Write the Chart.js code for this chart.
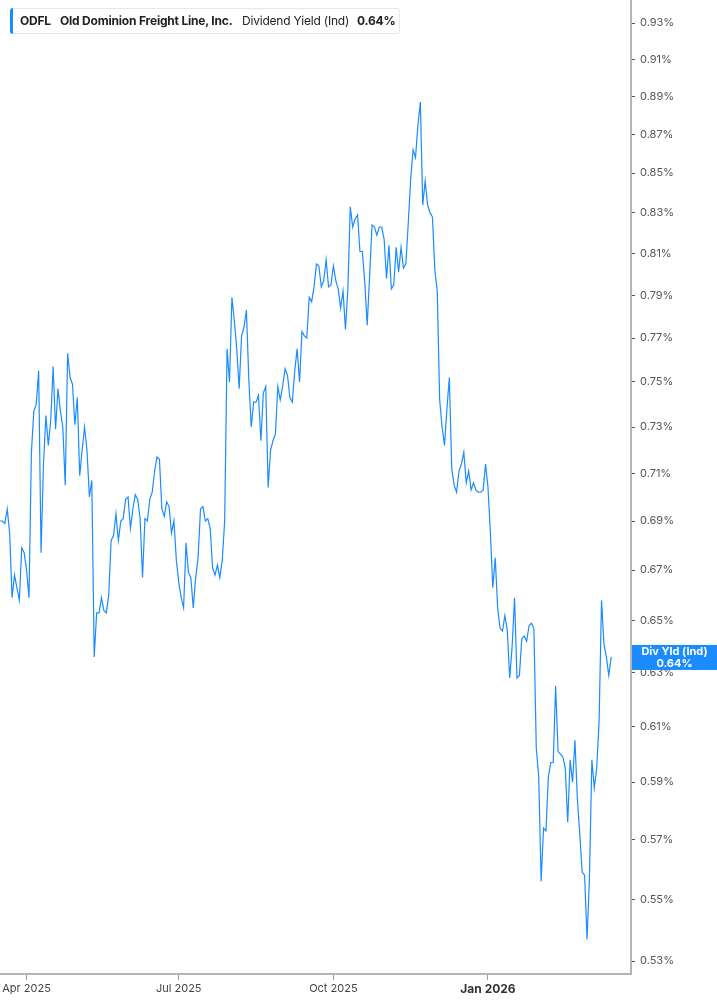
<!DOCTYPE html>
<html>
<head>
<meta charset="utf-8">
<title>ODFL Dividend Yield (Ind)</title>
<script src="https://cdn.jsdelivr.net/npm/chart.js@4.4.1/dist/chart.umd.min.js"></script>
<style>
  html, body { margin: 0; padding: 0; background: #fff; }
  #wrap { position: relative; width: 717px; height: 1005px; }
  #legend {
    position: absolute; left: 10px; top: 8px; height: 24px; width: 388px;
    border: 1px solid #e4e6ea; border-radius: 3px; background: #fff;
    font-family: Inter, "Noto Sans", sans-serif; font-size: 12px; letter-spacing: -0.2px; color: #222;
    line-height: 24px; white-space: nowrap; box-sizing: content-box;
  }
  #legend .bar { position: absolute; left: -1px; top: -1px; bottom: -1px; width: 3px; background: #1a8cff; border-radius: 3px 0 0 3px; }
  #legend span { position: absolute; top: 0; }
  #legend b { font-weight: 700; }
</style>
</head>
<body>
<div id="wrap">
  <canvas id="yield-chart" width="717" height="1005"></canvas>
  <div id="legend">
    <div class="bar"></div>
    <span style="left:9px"><b>ODFL</b></span>
    <span style="left:49px"><b>Old Dominion Freight Line, Inc.</b></span>
    <span style="left:231px">Dividend Yield (Ind)</span>
    <span style="left:346px"><b id="last-val"></b></span>
  </div>
</div>
<script>
// daily dividend yield (%), Mar 2025 -> Mar 2026
var divYield = [
  0.690, 0.690, 0.689, 0.695, 0.685, 0.659, 0.668, 0.663, 0.658, 0.679,
  0.677, 0.670, 0.659, 0.719, 0.737, 0.740, 0.755, 0.677, 0.714, 0.735,
  0.722, 0.733, 0.757, 0.729, 0.747, 0.737, 0.730, 0.705, 0.763, 0.752,
  0.749, 0.731, 0.743, 0.709, 0.720, 0.730, 0.720, 0.700, 0.707, 0.636,
  0.653, 0.653, 0.659, 0.654, 0.653, 0.660, 0.682, 0.684, 0.693, 0.682,
  0.690, 0.691, 0.699, 0.700, 0.687, 0.695, 0.701, 0.699, 0.691, 0.667,
  0.691, 0.690, 0.699, 0.702, 0.711, 0.717, 0.716, 0.695, 0.692, 0.698,
  0.696, 0.685, 0.690, 0.674, 0.665, 0.659, 0.655, 0.681, 0.669, 0.667,
  0.655, 0.667, 0.675, 0.695, 0.696, 0.690, 0.691, 0.687, 0.671, 0.668,
  0.672, 0.667, 0.674, 0.690, 0.765, 0.750, 0.789, 0.778, 0.765, 0.747,
  0.771, 0.775, 0.783, 0.751, 0.730, 0.741, 0.741, 0.744, 0.724, 0.745,
  0.748, 0.704, 0.720, 0.724, 0.727, 0.748, 0.742, 0.748, 0.756, 0.753,
  0.743, 0.741, 0.755, 0.765, 0.750, 0.773, 0.771, 0.770, 0.789, 0.787,
  0.794, 0.805, 0.804, 0.794, 0.797, 0.807, 0.794, 0.795, 0.804, 0.797,
  0.793, 0.784, 0.792, 0.774, 0.793, 0.833, 0.823, 0.827, 0.829, 0.811,
  0.811, 0.796, 0.776, 0.799, 0.824, 0.823, 0.819, 0.823, 0.823, 0.817,
  0.798, 0.814, 0.793, 0.795, 0.813, 0.801, 0.813, 0.803, 0.805, 0.825,
  0.847, 0.862, 0.858, 0.875, 0.887, 0.834, 0.846, 0.834, 0.830, 0.828,
  0.802, 0.792, 0.742, 0.730, 0.722, 0.738, 0.752, 0.712, 0.705, 0.702,
  0.711, 0.714, 0.719, 0.706, 0.711, 0.703, 0.706, 0.703, 0.702, 0.702,
  0.703, 0.714, 0.704, 0.685, 0.663, 0.675, 0.655, 0.647, 0.646, 0.652,
  0.646, 0.628, 0.640, 0.659, 0.628, 0.629, 0.643, 0.644, 0.642, 0.648,
  0.649, 0.647, 0.602, 0.592, 0.556, 0.574, 0.573, 0.592, 0.597, 0.597,
  0.625, 0.601, 0.600, 0.599, 0.595, 0.576, 0.598, 0.590, 0.605, 0.584,
  0.572, 0.559, 0.558, 0.537, 0.557, 0.598, 0.588, 0.595, 0.612, 0.658,
  0.641, 0.636, 0.629, 0.636
];

// trading-day index where each labelled month starts
var xTickIdx = [11, 74, 138, 202];
var xTickLabels = ['Apr 2025', 'Jul 2025', 'Oct 2025', 'Jan 2026'];
var xTickBold = [false, false, false, true];

var yTicks = [0.53, 0.55, 0.57, 0.59, 0.61, 0.63, 0.65, 0.67, 0.69, 0.71, 0.73,
              0.75, 0.77, 0.79, 0.81, 0.83, 0.85, 0.87, 0.89, 0.91, 0.93];

var lineColor = '#1a8cff';
var lastVal = divYield[divYield.length - 1];
document.getElementById('last-val').textContent = lastVal.toFixed(2) + '%';

// blue tag on the right axis at the latest value
var lastTag = {
  id: 'lastTag',
  afterDraw: function (chart) {
    var ctx = chart.ctx;
    var y = chart.scales.y.getPixelForValue(lastVal);
    var left = chart.chartArea.right + 1;
    ctx.save();
    ctx.fillStyle = lineColor;
    ctx.fillRect(left, y - 12, chart.width - left, 25);
    ctx.fillStyle = '#fff';
    ctx.font = 'bold 11px Inter, "Noto Sans", sans-serif';
    ctx.textAlign = 'center';
    ctx.textBaseline = 'middle';
    var cx = left + (chart.width - left) / 2;
    ctx.fillText('Div Yld (Ind)', cx, y - 5);
    ctx.fillText(lastVal.toFixed(2) + '%', cx, y + 7);
    ctx.restore();
  }
};

function myChart(element) {
  var el = document.getElementById(element);

  new Chart(el, {
    type: 'line',
    data: {
      datasets: [{
        data: divYield.map(function (v, i) { return { x: i, y: v }; }),
        borderColor: lineColor,
        borderWidth: 1.2,
        pointRadius: 0,
        tension: 0,
        fill: false
      }]
    },
    options: {
      responsive: false,
      animation: false,
      events: [],
      layout: { padding: 0 },
      plugins: {
        legend: { display: false },
        tooltip: { enabled: false }
      },
      scales: {
        x: {
          type: 'linear',
          min: 0,
          max: 261.2,
          afterBuildTicks: function (s) {
            s.ticks = xTickIdx.map(function (v) { return { value: v }; });
          },
          afterFit: function (s) {
            s.height = 31;
            s.paddingLeft = 0;
            s.paddingRight = 0;
          },
          grid: { drawOnChartArea: false, tickLength: 6, tickColor: '#9a9a9a', tickWidth: 1 },
          border: { color: '#b4b4b4', width: 2 },
          ticks: {
            autoSkip: false,
            maxRotation: 0,
            padding: 2,
            callback: function (v, i) { return xTickLabels[i]; },
            color: function (c) { return xTickBold[c.index] ? '#333' : '#444'; },
            font: function (c) {
              return xTickBold[c.index]
                ? { family: 'Inter', size: 12, weight: 'bold' }
                : { family: 'Inter', size: 11 };
            }
          }
        },
        y: {
          type: 'logarithmic',
          position: 'right',
          min: 0.5259,
          max: 0.943,
          afterBuildTicks: function (s) {
            s.ticks = yTicks.map(function (v) { return { value: v }; });
          },
          afterFit: function (s) {
            s.width = 86;
            s.paddingTop = 0;
            s.paddingBottom = 0;
          },
          grid: { drawOnChartArea: false, tickLength: 4, tickColor: '#555', tickWidth: 1 },
          border: { color: '#b4b4b4', width: 2 },
          ticks: {
            autoSkip: false,
            padding: 5,
            color: '#555',
            font: { family: 'Inter', size: 11 },
            callback: function (v) { return Number(v).toFixed(2) + '%'; }
          }
        }
      }
    },
    plugins: [lastTag]
  });
}
myChart('yield-chart');
</script>
</body>
</html>
